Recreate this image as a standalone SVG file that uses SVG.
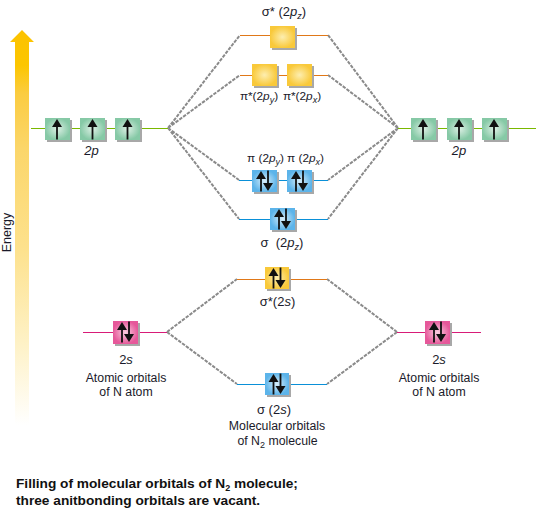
<svg xmlns="http://www.w3.org/2000/svg" width="543" height="513" viewBox="0 0 543 513">
<style>
text{font-family:"Liberation Sans",Arial,sans-serif;font-size:12.3px;fill:#1a1a2a;text-anchor:middle}
.i{font-style:italic}
.l{font-size:13px}
.u{font-size:11.8px}
.b{font-weight:bold;font-size:13.7px;text-anchor:start;fill:#111}
.d{stroke:#8a8a8a;stroke-width:2;stroke-dasharray:3.5 1.2;fill:none}
.g{stroke:#7ab800;stroke-width:1.2;fill:none}
.o{stroke:#e07818;stroke-width:1.2;fill:none}
.c{stroke:#0a90d8;stroke-width:1.2;fill:none}
.m{stroke:#d81b78;stroke-width:1.2;fill:none}
.s{fill:#a8a8a8}
.ar{fill:#111;stroke:none}
.sub{font-size:9px}
</style>
<defs>
<radialGradient id="gg"><stop offset="0" stop-color="#dcefe4"/><stop offset="1" stop-color="#86c9a6"/></radialGradient>
<radialGradient id="gy"><stop offset="0" stop-color="#fdeeb0"/><stop offset="1" stop-color="#f9c93a"/></radialGradient>
<radialGradient id="gb"><stop offset="0" stop-color="#d8eefa"/><stop offset="1" stop-color="#5cb4ea"/></radialGradient>
<radialGradient id="gp"><stop offset="0" stop-color="#f8cfe0"/><stop offset="1" stop-color="#e6589a"/></radialGradient>
<linearGradient id="en" x1="0" y1="30" x2="0" y2="425" gradientUnits="userSpaceOnUse"><stop offset="0" stop-color="#fcc200"/><stop offset="0.09" stop-color="#fcc600"/><stop offset="0.16" stop-color="#fbcc40"/><stop offset="0.3" stop-color="#fbd66a"/><stop offset="0.55" stop-color="#fde18c"/><stop offset="0.8" stop-color="#fef2c8"/><stop offset="1" stop-color="#ffffff"/></linearGradient>
<g id="up"><rect class="ar" x="-0.9" y="-4" width="1.8" height="14.5"/><path class="ar" d="M0-10L5-2H-5Z"/></g>
<g id="down"><rect class="ar" x="-0.9" y="-10.5" width="1.8" height="14.5"/><path class="ar" d="M0 10L5 2H-5Z"/></g>
<g id="pair"><use href="#up" x="-3.5"/><use href="#down" x="3.5"/></g>
</defs>

<g id="energy-axis">
<path d="M22 30L34 42H29V425H15V42H10Z" fill="url(#en)"/>
<text transform="translate(11,232.500) rotate(-90)" style="font-size:12.500px">Energy</text>
</g>

<g id="connectors">
<path class="d" d="M168 128L240 35M168 128L240 75M168 128L239 180M168 128L239 219"/>
<path class="d" d="M398 128L328 35M398 128L328 75M398 128L328 180M398 128L328 219"/>
<path class="d" d="M167 332L237 279M167 332L237 384M397 332L327 279M397 332L327 384"/>
<path class="g" d="M31 128.500H168M398 128.500H536"/>
<path class="o" d="M240 35.500H328M240 75.500H328M237 279.500H327"/>
<path class="c" d="M239 180.500H328M239 219.500H328M237 384.500H327"/>
<path class="m" d="M83 332.500H167M397 332.500H481"/>
</g>

<g id="left-2p">
<rect class="s" x="47" y="120" width="25" height="22"/><rect x="45" y="118" width="25" height="22" fill="url(#gg)"/><use href="#up" x="57" y="129"/>
<rect class="s" x="82" y="120" width="25" height="22"/><rect x="80" y="118" width="25" height="22" fill="url(#gg)"/><use href="#up" x="92.500" y="129"/>
<rect class="s" x="117" y="120" width="25" height="22"/><rect x="115" y="118" width="25" height="22" fill="url(#gg)"/><use href="#up" x="127.500" y="129"/>
<text x="91.500" y="155" class="i l">2p</text>
</g>

<g id="right-2p">
<rect class="s" x="413" y="120" width="25" height="22"/><rect x="411" y="118" width="25" height="22" fill="url(#gg)"/><use href="#up" x="423" y="129"/>
<rect class="s" x="449" y="120" width="25" height="22"/><rect x="447" y="118" width="25" height="22" fill="url(#gg)"/><use href="#up" x="459" y="129"/>
<rect class="s" x="484" y="120" width="25" height="22"/><rect x="482" y="118" width="25" height="22" fill="url(#gg)"/><use href="#up" x="494" y="129"/>
<text x="459" y="155" class="i l">2p</text>
</g>

<g id="sigma-star-2pz">
<rect class="s" x="272" y="28" width="25" height="22"/><rect x="270" y="26" width="25" height="22" fill="url(#gy)"/>
<text x="284" y="16" class="l">σ* (2<tspan class="i">p</tspan><tspan class="i sub" dy="3">z</tspan><tspan dy="-3">)</tspan></text>
</g>

<g id="pi-star-2py">
<rect class="s" x="254" y="66" width="25" height="22"/><rect x="252" y="64" width="25" height="22" fill="url(#gy)"/>
<text x="259" y="100" class="u">π*(2<tspan class="i">p</tspan><tspan class="i sub" dy="3">y</tspan><tspan dy="-3">)</tspan></text>
</g>

<g id="pi-star-2px">
<rect class="s" x="289" y="66" width="25" height="22"/><rect x="287" y="64" width="25" height="22" fill="url(#gy)"/>
<text x="302" y="100" class="u">π*(2<tspan class="i">p</tspan><tspan class="i sub" dy="3">x</tspan><tspan dy="-3">)</tspan></text>
</g>

<g id="pi-2py">
<rect class="s" x="254" y="172" width="25" height="22"/><rect x="252" y="170" width="25" height="22" fill="url(#gb)"/><use href="#pair" x="264.500" y="181"/>
<text x="265.500" y="162" class="u">π (2<tspan class="i">p</tspan><tspan class="i sub" dy="3">y</tspan><tspan dy="-3">)</tspan></text>
</g>

<g id="pi-2px">
<rect class="s" x="289" y="172" width="25" height="22"/><rect x="287" y="170" width="25" height="22" fill="url(#gb)"/><use href="#pair" x="299.500" y="181"/>
<text x="305.500" y="162" class="u">π (2<tspan class="i">p</tspan><tspan class="i sub" dy="3">x</tspan><tspan dy="-3">)</tspan></text>
</g>

<g id="sigma-2pz">
<rect class="s" x="272" y="210" width="25" height="22"/><rect x="270" y="208" width="25" height="22" fill="url(#gb)"/><use href="#pair" x="282.500" y="219"/>
<text x="282" y="247" class="l" xml:space="preserve">σ  (2<tspan class="i">p</tspan><tspan class="i sub" dy="3">z</tspan><tspan dy="-3">)</tspan></text>
</g>

<g id="sigma-star-2s">
<rect class="s" x="267" y="269" width="24" height="22"/><rect x="265" y="267" width="24" height="22" fill="url(#gy)"/><use href="#pair" x="277" y="278"/>
<text x="277.500" y="306" class="l">σ*(2<tspan class="i">s</tspan>)</text>
</g>

<g id="sigma-2s">
<rect class="s" x="267" y="375" width="24" height="22"/><rect x="265" y="373" width="24" height="22" fill="url(#gb)"/><use href="#pair" x="277" y="384"/>
<text x="274" y="414" class="l">σ (2<tspan class="i">s</tspan>)</text>
<text x="277" y="430">Molecular orbitals</text>
<text x="277.500" y="445">of N<tspan class="sub" dy="3">2</tspan><tspan dy="-3"> molecule</tspan></text>
</g>

<g id="left-2s">
<rect class="s" x="115" y="323" width="25" height="23"/><rect x="113" y="321" width="25" height="23" fill="url(#gp)"/><use href="#pair" x="125.500" y="332"/>
<text x="126" y="364" class="l">2<tspan class="i">s</tspan></text>
<text x="126" y="382">Atomic orbitals</text>
<text x="126" y="396">of N atom</text>
</g>

<g id="right-2s">
<rect class="s" x="427" y="323" width="25" height="23"/><rect x="425" y="321" width="25" height="23" fill="url(#gp)"/><use href="#pair" x="437.500" y="332"/>
<text x="439" y="364" class="l">2<tspan class="i">s</tspan></text>
<text x="439" y="382">Atomic orbitals</text>
<text x="439" y="396">of N atom</text>
</g>

<g id="caption">
<text class="b" x="16" y="488">Filling of molecular orbitals of N<tspan class="sub" dy="3">2</tspan><tspan dy="-3"> molecule;</tspan></text>
<text class="b" x="16" y="505">three anitbonding orbitals are vacant.</text>
</g>
</svg>
